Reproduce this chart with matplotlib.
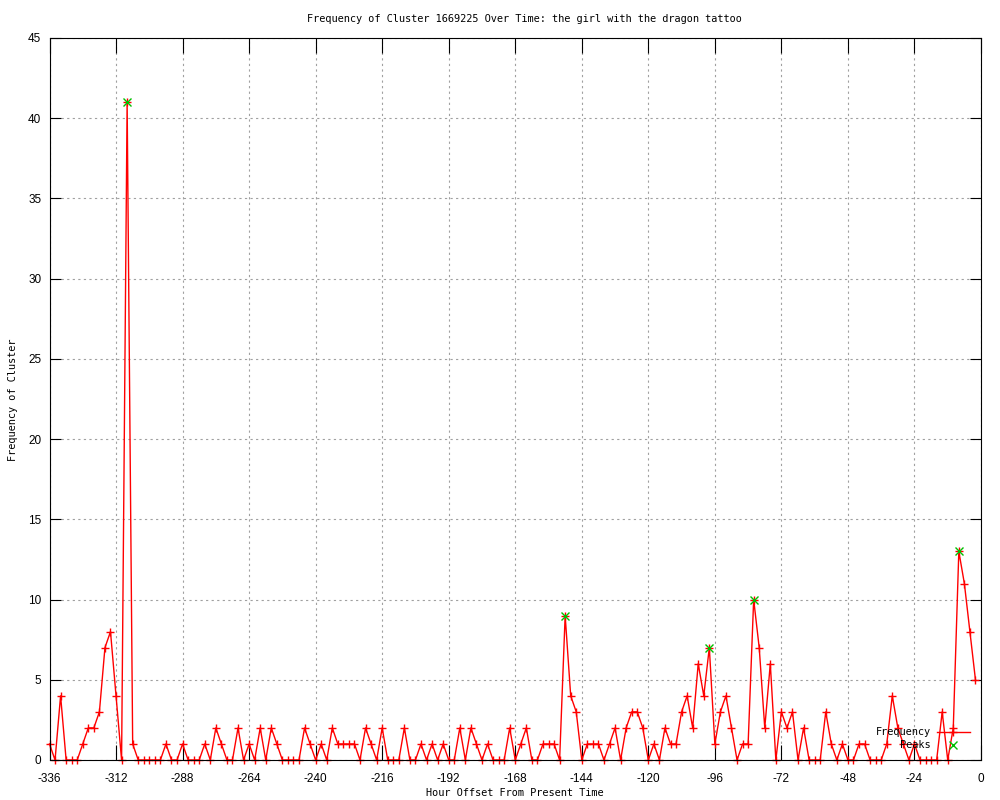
"""Frequency of one cluster over the last two weeks, gnuplot-style png look."""
import matplotlib
matplotlib.use("Agg")
import matplotlib.pyplot as plt

plt.rcParams["axes.unicode_minus"] = False

# hour offsets, one sample every two hours
HOURS = list(range(-336, 0, 2))
FREQ = [
    1, 0, 4, 0, 0, 0, 1, 2, 2, 3, 7, 8, 4, 0, 41, 1,      # -336 .. -306
    0, 0, 0, 0, 0, 1, 0, 0, 1, 0, 0, 0, 1, 0, 2, 1,       # -304 .. -274
    0, 0, 2, 0, 1, 0, 2, 0, 2, 1, 0, 0, 0, 0, 2, 1,       # -272 .. -242
    0, 1, 0, 2, 1, 1, 1, 1, 0, 2, 1, 0, 2, 0, 0, 0,       # -240 .. -210
    2, 0, 0, 1, 0, 1, 0, 1, 0, 0, 2, 0, 2, 1, 0, 1,       # -208 .. -178
    0, 0, 0, 2, 0, 1, 2, 0, 0, 1, 1, 1, 0, 9, 4, 3,       # -176 .. -146
    0, 1, 1, 1, 0, 1, 2, 0, 2, 3, 3, 2, 0, 1, 0, 2,       # -144 .. -114
    1, 1, 3, 4, 2, 6, 4, 7, 1, 3, 4, 2, 0, 1, 1, 10,      # -112 .. -82
    7, 2, 6, 0, 3, 2, 3, 0, 2, 0, 0, 0, 3, 1, 0, 1,       # -80 .. -50
    0, 0, 1, 1, 0, 0, 0, 1, 4, 2, 1, 0, 1, 0, 0, 0,       # -48 .. -18
    0, 3, 0, 2, 13, 11, 8, 5,                             # -16 .. -2
]

PEAK_HOURS = [-308, -150, -98, -82, -8]
PEAK_VALUES = [41, 9, 7, 10, 13]

XTICKS = list(range(-336, 1, 24))
YTICKS = list(range(0, 46, 5))

RED = "#ff0000"
GREEN = "#00c000"
GRID = "#a0a0a0"
MONO = "DejaVu Sans Mono"
SANS = "Liberation Sans"


def main():
    fig = plt.figure(figsize=(10, 8), dpi=100)
    fig.patch.set_facecolor("white")
    ax = fig.add_axes([0.0495, 0.05, 0.9315, 0.9025])

    ax.plot(HOURS, FREQ, color=RED, lw=1.0, marker="+", ms=6, mew=1.0,
            clip_on=False, zorder=3)
    ax.plot(PEAK_HOURS, PEAK_VALUES, ls="none", marker="x", ms=5.5, mew=1.0,
            color=GREEN, clip_on=False, zorder=4)

    ax.set_xlim(-336, 0)
    ax.set_ylim(0, 45)
    ax.set_xticks(XTICKS)
    ax.set_yticks(YTICKS)
    ax.grid(color=GRID, ls=(0, (2, 3)), lw=0.8)
    ax.set_axisbelow(True)

    ax.tick_params(direction="in", top=True, right=True, color="black",
                   width=0.8, labelsize=8.5)
    ax.tick_params(axis="x", length=11, pad=9)
    ax.tick_params(axis="y", length=8, pad=6)
    for lab in ax.get_xticklabels() + ax.get_yticklabels():
        lab.set_family(SANS)
    for sp in ax.spines.values():
        sp.set_color("black")
        sp.set_linewidth(0.8)
        sp.set_zorder(5)

    fig.text(0.524, 1 - 19 / 800,
             "Frequency of Cluster 1669225 Over Time: the girl with the dragon tattoo",
             family=MONO, fontsize=7.4, ha="center", va="center")
    fig.text(0.5145, 1 - 793 / 800, "Hour Offset From Present Time",
             family=MONO, fontsize=7.4, ha="center", va="center")
    fig.text(0.013, 0.5, "Frequency of Cluster", family=MONO, fontsize=7.4,
             rotation=90, ha="center", va="center")

    # legend, gnuplot puts it bottom right with the text right-aligned
    tr = ax.transAxes
    ax.plot([0.953, 0.988], [0.0384, 0.0384], color=RED, lw=1.0,
            transform=tr, clip_on=False, zorder=6)
    ax.plot([0.970], [0.0384], color=RED, marker="+", ms=6, mew=1.0,
            transform=tr, clip_on=False, zorder=6)
    ax.plot([0.970], [0.0208], color=GREEN, marker="x", ms=5.5, mew=1.0,
            ls="none", transform=tr, clip_on=False, zorder=6)
    ax.text(0.946, 0.0384, "Frequency", family=MONO, fontsize=7.4,
            ha="right", va="center", transform=tr, zorder=6)
    ax.text(0.946, 0.0208, "Peaks", family=MONO, fontsize=7.4,
            ha="right", va="center", transform=tr, zorder=6)

    fig.savefig("out.png", dpi=100, facecolor="white")
    plt.close(fig)


if __name__ == "__main__":
    main()
